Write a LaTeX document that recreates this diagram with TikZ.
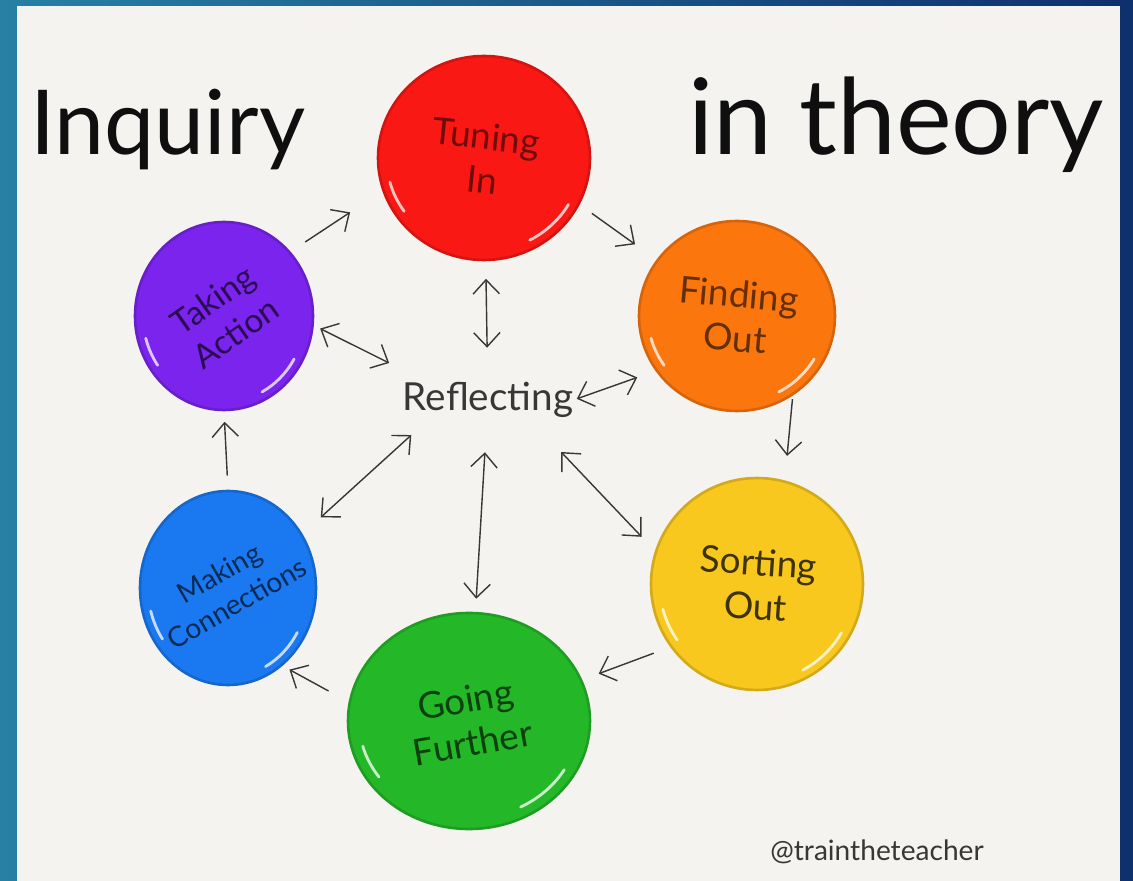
\documentclass[tikz,border=0pt]{standalone}
\usepackage{fontspec}
\setmainfont{Lato}
\usetikzlibrary{shapes.geometric,arrows.meta}

\definecolor{paper}{RGB}{244,243,240}
\definecolor{pen}{RGB}{55,55,55}
\definecolor{ink}{RGB}{15,15,15}
\definecolor{redink}{RGB}{250,24,20}
\definecolor{orangeink}{RGB}{252,118,14}
\definecolor{yellowink}{RGB}{248,200,30}
\definecolor{greenink}{RGB}{36,184,40}
\definecolor{blueink}{RGB}{26,121,240}
\definecolor{purpleink}{RGB}{122,36,238}
\definecolor{bgleft}{RGB}{40,128,165}
\definecolor{bgright}{RGB}{14,48,108}

\begin{document}
\begin{tikzpicture}[x=0.02cm, y=0.02cm]
\tikzset{
    blob/.style={ellipse, inner sep=0pt, line width=1.5pt},
    lbl/.style={align=center, inner sep=0pt, font=\fontsize{21}{25}\selectfont},
    streak/.style={white, line width=1.6pt, line cap=round, opacity=.75},
    arr/.style={draw=pen, line width=0.8pt, -{Straight Barb[length=8pt,width=15pt]}},
    dbl/.style={arr, {Straight Barb[length=8pt,width=15pt]}-{Straight Barb[length=8pt,width=15pt]}}
}

% --- frame ---
\useasboundingbox (0,0) rectangle (1133,-881);
\shade[left color=bgleft, right color=bgright] (0,0) rectangle (1133,-881);
\fill[paper] (17,-6) rectangle (1120,-881);

% --- title and credit ---
\node[anchor=base west, inner sep=0pt, text=ink, font=\fontsize{51}{56}\selectfont] (inq) at (30,-155) {Inquiry};
\node[anchor=base west, inner sep=0pt, text=ink, font=\fontsize{60}{66}\selectfont] (theo) at (688,-155) {in theory};
\node[anchor=base west, inner sep=0pt, text=pen, font=\fontsize{16}{18}\selectfont] (tag) at (770,-860) {@traintheteacher};

% --- stages ---
\node[blob, fill=redink, draw=redink!85!black, minimum width=4.24cm, minimum height=4.08cm,
    label={[lbl, rotate=-6, text=redink!45!black]center:Tuning\\In}] (tune) at (484,-158) {};
\node[blob, fill=orangeink, draw=orangeink!85!black, minimum width=3.92cm, minimum height=3.8cm,
    label={[lbl, rotate=-5, text=orangeink!40!black]center:Finding\\Out}] (find) at (737,-316) {};
\node[blob, fill=yellowink, draw=yellowink!85!black, minimum width=4.24cm, minimum height=4.24cm,
    label={[lbl, rotate=-4, text=yellowink!25!black]center:Sorting\\Out}] (sort) at (757,-584) {};
\node[blob, fill=greenink, draw=greenink!85!black, minimum width=4.84cm, minimum height=4.32cm,
    label={[lbl, rotate=10, text=greenink!35!black]center:Going\\Further}] (go) at (469,-721) {};
\node[blob, fill=blueink, draw=blueink!85!black, minimum width=3.52cm, minimum height=3.88cm,
    label={[lbl, rotate=30, text=blueink!35!black, font=\fontsize{16}{20}\selectfont]center:Making\\Connections}] (conn) at (228,-588) {};
\node[blob, fill=purpleink, draw=purpleink!85!black, minimum width=3.56cm, minimum height=3.76cm,
    label={[lbl, rotate=35, text=purpleink!35!black, font=\fontsize{19}{23}\selectfont]center:Taking\\Action}] (act) at (224,-316) {};

% white gaps left by the marker
\foreach \b/\rx/\ry in {tune/1.95/1.86, find/1.78/1.72, sort/1.95/1.95, go/2.2/1.95, conn/1.6/1.78, act/1.62/1.72}{
    \draw[streak] (\b.center) ++(-62:\rx cm and \ry cm) arc[start angle=-62, end angle=-30, x radius=\rx cm, y radius=\ry cm];
    \draw[streak] (\b.center) ++(195:\rx cm and \ry cm) arc[start angle=195, end angle=215, x radius=\rx cm, y radius=\ry cm];
}

% --- centre ---
\node[inner sep=0pt, minimum width=3.4cm, minimum height=1.2cm, text=pen,
    font=\fontsize{22}{24}\selectfont] (refl) at (488,-400) {Reflecting};

% --- cycle ---
\draw[arr, shorten <=10pt, shorten >=22pt] (act.44) -- (tune.198);
\draw[arr, shorten <=8.5pt, shorten >=15pt] (tune.-26) -- (find.145);
\draw[arr, shorten <=2pt, shorten >=14pt] (find.-55) -- (sort.75);
\draw[arr, shorten <=10pt, shorten >=10pt] (sort.216) -- (go.20);
\draw[arr, shorten <=13pt, shorten >=4.5pt] (go.171) -- (conn.-55);
\draw[arr, shorten <=8pt, shorten >=6pt] (conn.90) -- (act.-90);

% --- reflecting both ways ---
\draw[dbl, shorten <=12.5pt, shorten >=10pt] (refl) -- (tune);
\draw[dbl, shorten <=8.5pt, shorten >=4pt] (refl.north west) -- (act.-6);
\draw[dbl, shorten <=2pt, shorten >=11pt] (refl.east) -- (find.214);
\draw[dbl, shorten <=4pt, shorten >=14pt] (refl.-157) -- (conn.36);
\draw[dbl, shorten <=12.5pt, shorten >=7.5pt] (refl) -- (go);
\draw[dbl, shorten <=17pt, shorten >=11pt] (refl.-30) -- (sort.162);
\end{tikzpicture}
\end{document}
